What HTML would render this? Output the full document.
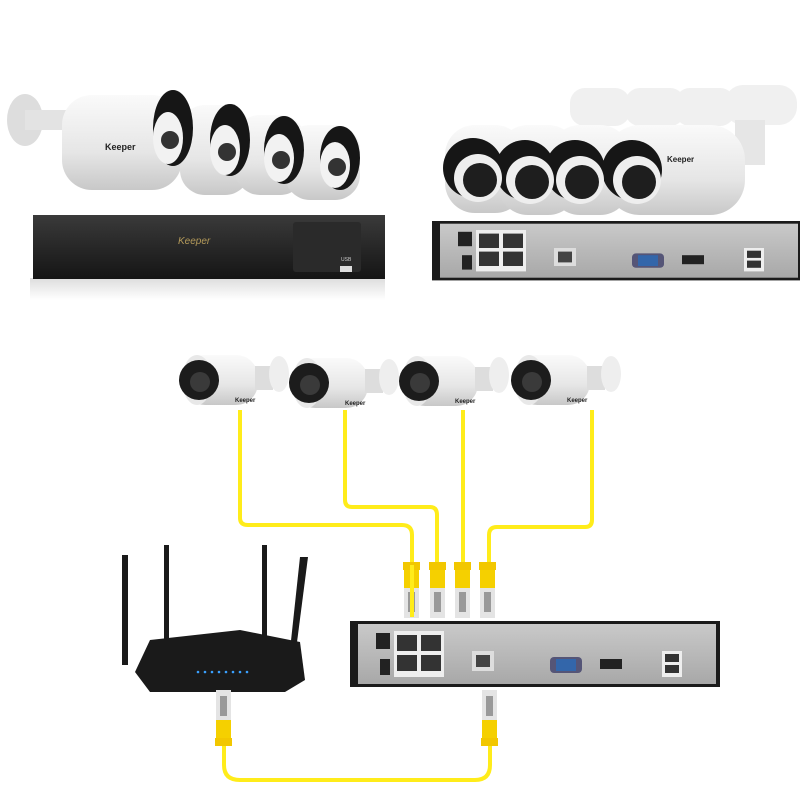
<!DOCTYPE html>
<html><head><meta charset="utf-8"><style>body{margin:0;background:#fff}svg{display:block}</style></head><body>
<svg width="800" height="800" viewBox="0 0 800 800" xmlns="http://www.w3.org/2000/svg" font-family="Liberation Sans, sans-serif">
<defs>
<linearGradient id="wb" x1="0" y1="0" x2="0" y2="1"><stop offset="0" stop-color="#fafafa"/><stop offset=".6" stop-color="#e6e6e6"/><stop offset="1" stop-color="#c8c8c8"/></linearGradient>
<linearGradient id="blk" x1="0" y1="0" x2="0" y2="1"><stop offset="0" stop-color="#3a3a3a"/><stop offset="1" stop-color="#151515"/></linearGradient>
<linearGradient id="sil" x1="0" y1="0" x2="0" y2="1"><stop offset="0" stop-color="#c9c9c9"/><stop offset="1" stop-color="#a8a8a8"/></linearGradient>
<linearGradient id="refl" x1="0" y1="0" x2="0" y2="1"><stop offset="0" stop-color="#ddd"/><stop offset="1" stop-color="#fff"/></linearGradient>
<g id="cn"><rect x="0" y="0" width="17" height="8" fill="#f2c700"/><rect x="1" y="8" width="15" height="18" fill="#f5d000"/><rect x="1" y="26" width="15" height="30" fill="#e4e4e4"/><rect x="5" y="30" width="7" height="20" fill="#999"/></g>
<g id="nvr">
<rect x="0" y="0" width="370" height="66" fill="#1b1b1b"/>
<rect x="8" y="3" width="358" height="60" fill="url(#sil)"/>
<rect x="26" y="12" width="14" height="16" fill="#222"/>
<rect x="44" y="10" width="50" height="46" fill="#eee"/>
<rect x="47" y="14" width="20" height="16" fill="#333"/><rect x="71" y="14" width="20" height="16" fill="#333"/>
<rect x="47" y="34" width="20" height="16" fill="#333"/><rect x="71" y="34" width="20" height="16" fill="#333"/>
<rect x="30" y="38" width="10" height="16" fill="#222"/>
<rect x="122" y="30" width="22" height="20" fill="#ddd"/><rect x="126" y="34" width="14" height="12" fill="#444"/>
<rect x="200" y="36" width="32" height="16" rx="4" fill="#557"/><rect x="206" y="38" width="20" height="12" fill="#36a"/>
<rect x="250" y="38" width="22" height="10" fill="#222"/>
<rect x="312" y="30" width="20" height="26" fill="#eee"/><rect x="315" y="33" width="14" height="8" fill="#333"/><rect x="315" y="44" width="14" height="8" fill="#333"/>
</g>
<g id="scam">
<rect x="0" y="-25" width="75" height="50" rx="22" fill="url(#wb)"/>
<ellipse cx="14" cy="0" rx="15" ry="25" fill="#e8e8e8"/>
<circle cx="16" cy="0" r="20" fill="#1c1c1c"/><circle cx="17" cy="2" r="10" fill="#3a3a3a"/>
<rect x="72" y="-14" width="18" height="24" fill="#ddd"/><ellipse cx="96" cy="-6" rx="10" ry="18" fill="#eee"/>
<text x="52" y="22" font-size="6" font-weight="bold" fill="#222">Keeper</text>
</g>
</defs>

<g>
<ellipse cx="25" cy="120" rx="18" ry="26" fill="#ddd"/>
<rect x="25" y="110" width="50" height="20" fill="#e3e3e3"/>
<g fill="url(#wb)">
<rect x="62" y="95" width="120" height="95" rx="30"/>
<rect x="180" y="105" width="70" height="90" rx="25"/>
<rect x="235" y="115" width="70" height="80" rx="25"/>
<rect x="285" y="125" width="75" height="75" rx="25"/>
</g>
<g fill="#161616">
<ellipse cx="173" cy="128" rx="20" ry="38"/><ellipse cx="230" cy="140" rx="20" ry="36"/>
<ellipse cx="284" cy="150" rx="20" ry="34"/><ellipse cx="340" cy="158" rx="20" ry="32"/>
</g>
<g fill="#f2f2f2">
<ellipse cx="168" cy="138" rx="15" ry="26"/><ellipse cx="225" cy="150" rx="15" ry="25"/>
<ellipse cx="279" cy="158" rx="15" ry="24"/><ellipse cx="335" cy="165" rx="15" ry="23"/>
</g>
<g fill="#333"><circle cx="170" cy="140" r="9"/><circle cx="227" cy="152" r="9"/><circle cx="281" cy="160" r="9"/><circle cx="337" cy="167" r="9"/></g>
<text x="105" y="150" font-size="9" font-weight="bold" fill="#222">Keeper</text>
</g>
<rect x="30" y="278" width="355" height="22" fill="url(#refl)"/>
<rect x="33" y="215" width="352" height="64" fill="url(#blk)"/>
<rect x="293" y="222" width="68" height="50" rx="3" fill="#2a2a2a"/>
<text x="178" y="244" font-size="10" font-style="italic" fill="#b49a5a">Keeper</text>
<text x="341" y="261" font-size="5" fill="#ccc">USB</text>
<rect x="340" y="266" width="12" height="6" fill="#ddd"/>

<g fill="#f0f0f0">
<rect x="570" y="88" width="60" height="38" rx="15"/><rect x="625" y="88" width="60" height="38" rx="15"/>
<rect x="675" y="88" width="60" height="38" rx="15"/><rect x="725" y="85" width="72" height="40" rx="18"/>
<rect x="735" y="120" width="30" height="45" fill="#e6e6e6"/>
</g>
<g fill="url(#wb)">
<rect x="445" y="125" width="80" height="88" rx="30"/><rect x="498" y="125" width="80" height="90" rx="30"/>
<rect x="550" y="125" width="80" height="90" rx="30"/><rect x="605" y="125" width="140" height="90" rx="35"/>
</g>
<g fill="#161616"><circle cx="473" cy="168" r="30"/><circle cx="525" cy="170" r="30"/><circle cx="575" cy="170" r="30"/><circle cx="632" cy="170" r="30"/></g>
<g fill="#eee"><circle cx="478" cy="178" r="24"/><circle cx="530" cy="180" r="24"/><circle cx="580" cy="180" r="24"/><circle cx="637" cy="180" r="24"/></g>
<g fill="#1e1e1e"><circle cx="480" cy="180" r="17"/><circle cx="532" cy="182" r="17"/><circle cx="582" cy="182" r="17"/><circle cx="639" cy="182" r="17"/></g>
<text x="667" y="162" font-size="8" font-weight="bold" fill="#222">Keeper</text>
<g transform="translate(432 221) scale(1 0.9)"><use href="#nvr"/></g>

<use href="#scam" x="183" y="380"/>
<use href="#scam" x="293" y="383"/>
<use href="#scam" x="403" y="381"/>
<use href="#scam" x="515" y="380"/>

<g fill="none" stroke="#ffec1a" stroke-width="4" stroke-linejoin="round">
<path d="M240 410 V518 Q240 525 248 525 H402 Q412 525 412 535 V615"/>
<path d="M345 410 V500 Q345 507 352 507 H430 Q437 507 437 515 V565"/>
<path d="M463 410 V565"/>
<path d="M592 410 V520 Q592 527 585 527 H497 Q489 527 489 535 V565"/>
<path d="M224 744 V765 Q224 780 240 780 H475 Q490 780 490 765 V744"/>
</g>
<use href="#cn" x="403" y="562"/><use href="#cn" x="429" y="562"/><use href="#cn" x="454" y="562"/><use href="#cn" x="479" y="562"/>
<rect x="410" y="565" width="4" height="52" fill="#ffec1a"/>
<g fill="#1a1a1a">
<rect x="164" y="545" width="5" height="95"/><rect x="262" y="545" width="5" height="95"/>
<rect x="122" y="555" width="6" height="110"/><polygon points="300,557 308,557 296,650 290,650"/>
<polygon points="135,672 150,640 240,630 300,642 305,680 285,692 150,692"/>
</g>
<g fill="#3aa0ff"><circle cx="198" cy="672" r="1.3"/><circle cx="205" cy="672" r="1.3"/><circle cx="212" cy="672" r="1.3"/><circle cx="219" cy="672" r="1.3"/><circle cx="226" cy="672" r="1.3"/><circle cx="233" cy="672" r="1.3"/><circle cx="240" cy="672" r="1.3"/><circle cx="247" cy="672" r="1.3"/></g>
<use href="#nvr" x="350" y="621"/>
<g transform="translate(232 746) scale(-1 -1)"><use href="#cn"/></g>
<g transform="translate(498 746) scale(-1 -1)"><use href="#cn"/></g>
</svg>
</body></html>
